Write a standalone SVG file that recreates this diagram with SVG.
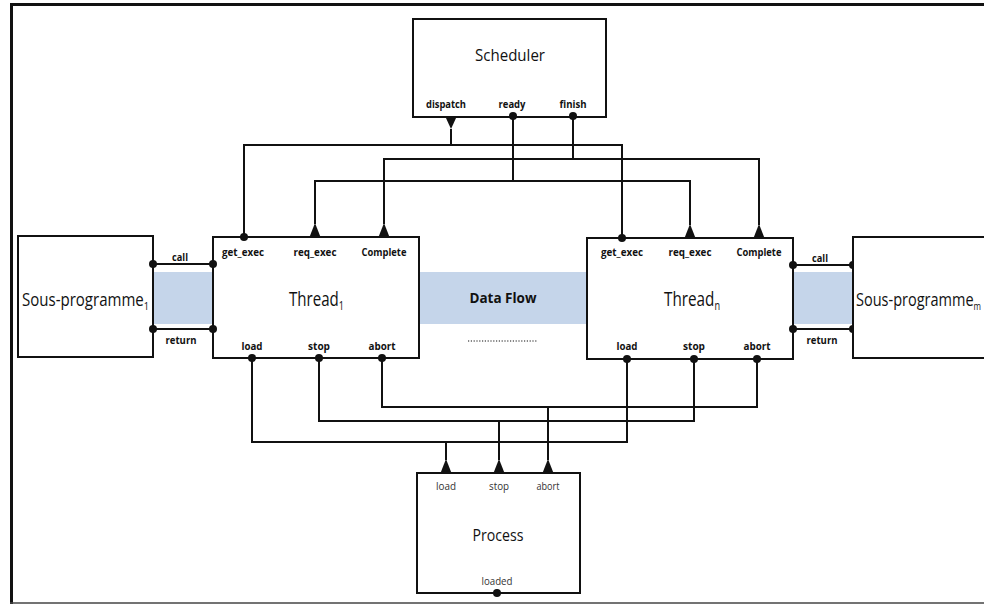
<svg xmlns="http://www.w3.org/2000/svg" width="984" height="604" viewBox="0 0 984 604">
<style>
.box{fill:#fff;stroke:#111;stroke-width:2}
.ln{fill:none;stroke:#111;stroke-width:2}
.band{fill:#c5d5ea;stroke:none}
.lbl{font-family:"Open Sans","Noto Sans","DejaVu Sans",sans-serif;font-weight:bold;font-size:11px;fill:#111;text-anchor:middle}
.plbl{font-family:"Open Sans","Noto Sans","DejaVu Sans",sans-serif;font-size:11px;fill:#333;text-anchor:middle}
.title{font-family:"Open Sans","Noto Sans","DejaVu Sans",sans-serif;fill:#111;text-anchor:middle}
.mk{fill:#111}
</style>
<defs>
<path id="triUp" d="M-5.5,0 L5.5,0 L0,-14 Z"/>
<path id="triDown" d="M-5.5,0 L5.5,0 L0,12 Z"/>
<circle id="dot" r="4"/>
</defs>
<rect width="984" height="604" fill="#fff"/>
<g id="frame">
<line x1="10" y1="4.5" x2="984" y2="4.5" stroke="#111" stroke-width="3"/>
<line x1="11.5" y1="3" x2="11.5" y2="604" stroke="#111" stroke-width="3"/>
<line x1="10" y1="603" x2="984" y2="603" stroke="#444" stroke-width="1.5"/>
</g>
<g id="bands">
<rect class="band" x="153" y="272" width="60" height="52"/>
<rect class="band" x="419" y="272" width="168" height="52"/>
<rect class="band" x="793" y="272" width="60" height="52"/>
</g>
<g id="connectors">
<path class="ln" d="M451,129 V145 M244,237 V145 H622 V238"/>
<path class="ln" d="M573,117 V159 M384,224 V159 H759 V225"/>
<path class="ln" d="M513,117 V181 M315,224 V181 H690 V225"/>
<path class="ln" d="M252,358 V442 H627 V359 M446,442 V460"/>
<path class="ln" d="M319,358 V421 H694 V359 M499,421 V460"/>
<path class="ln" d="M382,358 V407 H757 V359 M548,407 V460"/>
<path class="ln" d="M153,264 H213 M153,329 H213 M793,265 H853 M793,329 H853"/>
<line x1="468" y1="341" x2="538" y2="341" stroke="#111" stroke-width="1.2" stroke-dasharray="1.2 1.6"/>
</g>
<g id="scheduler">
<rect class="box" x="413" y="19" width="193" height="98"/>
<text class="title" x="510" y="61" font-size="16" textLength="70" lengthAdjust="spacingAndGlyphs">Scheduler</text>
<text class="lbl" x="446" y="108" textLength="40" lengthAdjust="spacingAndGlyphs">dispatch</text>
<text class="lbl" x="512" y="108" textLength="27" lengthAdjust="spacingAndGlyphs">ready</text>
<text class="lbl" x="573" y="108" textLength="27" lengthAdjust="spacingAndGlyphs">finish</text>
<use href="#triDown" x="451" y="117" class="mk"/>
<use href="#dot" x="513" y="116" class="mk"/>
<use href="#dot" x="573" y="116" class="mk"/>
</g>
<g id="sous-programme-1">
<rect class="box" x="18" y="236" width="135" height="121"/>
<text class="title" x="22" y="306" font-size="18" style="text-anchor:start" textLength="127" lengthAdjust="spacingAndGlyphs">Sous-programme<tspan font-size="11" dy="4">1</tspan></text>
</g>
<g id="thread-1">
<rect class="box" x="213" y="237" width="206" height="121"/>
<text class="title" x="289" y="306" font-size="20" style="text-anchor:start" textLength="55" lengthAdjust="spacingAndGlyphs">Thread<tspan font-size="12" dy="4">1</tspan></text>
<text class="lbl" x="243" y="256" textLength="42" lengthAdjust="spacingAndGlyphs">get_exec</text>
<text class="lbl" x="315" y="256" textLength="43" lengthAdjust="spacingAndGlyphs">req_exec</text>
<text class="lbl" x="384" y="256" textLength="45" lengthAdjust="spacingAndGlyphs">Complete</text>
<text class="lbl" x="252" y="350" textLength="21" lengthAdjust="spacingAndGlyphs">load</text>
<text class="lbl" x="319" y="350" textLength="22" lengthAdjust="spacingAndGlyphs">stop</text>
<text class="lbl" x="382" y="350" textLength="27" lengthAdjust="spacingAndGlyphs">abort</text>
<text class="lbl" x="180" y="261" textLength="16" lengthAdjust="spacingAndGlyphs">call</text>
<text class="lbl" x="181" y="344" textLength="31" lengthAdjust="spacingAndGlyphs">return</text>
<use href="#dot" x="244" y="237" class="mk"/>
<use href="#triUp" x="315" y="237" class="mk"/>
<use href="#triUp" x="384" y="237" class="mk"/>
<use href="#dot" x="252" y="358" class="mk"/>
<use href="#dot" x="319" y="358" class="mk"/>
<use href="#dot" x="382" y="358" class="mk"/>
<use href="#dot" x="153" y="264" class="mk"/>
<use href="#dot" x="213" y="264" class="mk"/>
<use href="#dot" x="153" y="329" class="mk"/>
<use href="#dot" x="213" y="329" class="mk"/>
</g>
<g id="data-flow">
<text class="title" x="503" y="303" font-size="15" font-weight="bold" textLength="67" lengthAdjust="spacingAndGlyphs">Data Flow</text>
</g>
<g id="thread-n">
<rect class="box" x="587" y="238" width="206" height="121"/>
<text class="title" x="664" y="306" font-size="20" style="text-anchor:start" textLength="56" lengthAdjust="spacingAndGlyphs">Thread<tspan font-size="12" dy="4">n</tspan></text>
<text class="lbl" x="622" y="256" textLength="42" lengthAdjust="spacingAndGlyphs">get_exec</text>
<text class="lbl" x="690" y="256" textLength="43" lengthAdjust="spacingAndGlyphs">req_exec</text>
<text class="lbl" x="759" y="256" textLength="45" lengthAdjust="spacingAndGlyphs">Complete</text>
<text class="lbl" x="627" y="350" textLength="21" lengthAdjust="spacingAndGlyphs">load</text>
<text class="lbl" x="694" y="350" textLength="22" lengthAdjust="spacingAndGlyphs">stop</text>
<text class="lbl" x="757" y="350" textLength="27" lengthAdjust="spacingAndGlyphs">abort</text>
<text class="lbl" x="820" y="262" textLength="16" lengthAdjust="spacingAndGlyphs">call</text>
<text class="lbl" x="822" y="344" textLength="31" lengthAdjust="spacingAndGlyphs">return</text>
<use href="#dot" x="622" y="238" class="mk"/>
<use href="#triUp" x="690" y="238" class="mk"/>
<use href="#triUp" x="759" y="238" class="mk"/>
<use href="#dot" x="627" y="359" class="mk"/>
<use href="#dot" x="694" y="359" class="mk"/>
<use href="#dot" x="757" y="359" class="mk"/>
<use href="#dot" x="793" y="265" class="mk"/>
<use href="#dot" x="853" y="265" class="mk"/>
<use href="#dot" x="793" y="329" class="mk"/>
<use href="#dot" x="853" y="329" class="mk"/>
</g>
<g id="sous-programme-m">
<rect class="box" x="853" y="237" width="140" height="121"/>
<text class="title" x="856" y="306" font-size="18" style="text-anchor:start" textLength="125" lengthAdjust="spacingAndGlyphs">Sous-programme<tspan font-size="10" dy="4">m</tspan></text>
</g>
<g id="process">
<rect class="box" x="417" y="473" width="163" height="120"/>
<text class="plbl" x="446" y="490" textLength="20" lengthAdjust="spacingAndGlyphs">load</text>
<text class="plbl" x="499" y="490" textLength="20" lengthAdjust="spacingAndGlyphs">stop</text>
<text class="plbl" x="548" y="490" textLength="23" lengthAdjust="spacingAndGlyphs">abort</text>
<text class="title" x="498" y="541" font-size="16" textLength="51" lengthAdjust="spacingAndGlyphs">Process</text>
<text class="plbl" x="497" y="585" textLength="31" lengthAdjust="spacingAndGlyphs">loaded</text>
<use href="#triUp" x="446" y="473" class="mk"/>
<use href="#triUp" x="499" y="473" class="mk"/>
<use href="#triUp" x="548" y="473" class="mk"/>
<use href="#dot" x="497" y="593" class="mk"/>
</g>
</svg>
